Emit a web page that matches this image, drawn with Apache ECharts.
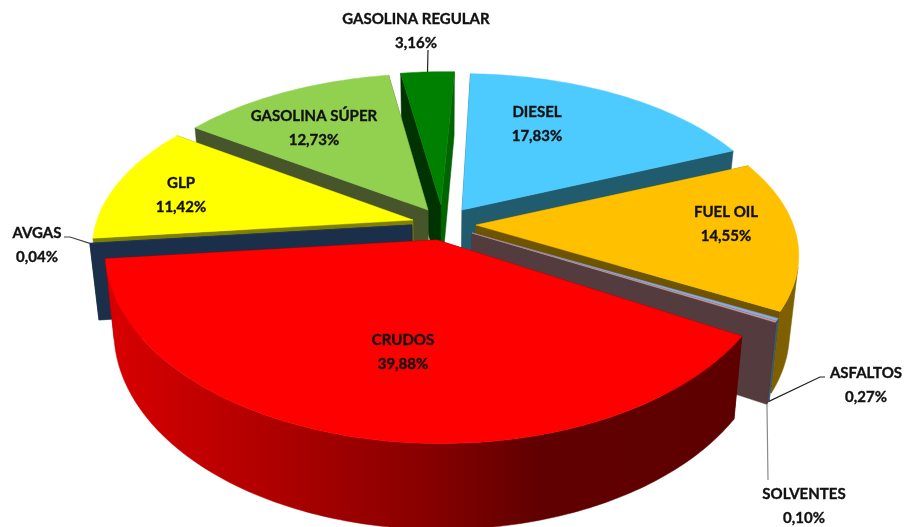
<!DOCTYPE html>
<html><head><meta charset="utf-8">
<style>html,body{margin:0;padding:0;background:#fff}#c{width:905px;height:527px}</style>
<script src="https://cdn.jsdelivr.net/npm/echarts@6/dist/echarts.min.js"></script>
</head><body><div id="c"></div>
<script>
// ---- data ----
const categories = ['DIESEL','FUEL OIL','ASFALTOS','SOLVENTES','CRUDOS','AVGAS','GLP','GASOLINA SÚPER','GASOLINA REGULAR'];
const shares = [17.83,14.55,0.27,0.10,39.88,0.04,11.42,12.73,3.16];

// ---- layout and style ----
const startAngle = 2;
const drawOrder = [8,0,7,6,1,2,3,5,4];
const apexes  = [[462,210],[476,225],[472,233],[472,233],[437,240],[412,225],[413,220],[428,210],[441,205]];
const centers = [[461,212],[476,227],[474,234],[474,234],[441,237],[412,225],[415,220],[433,212],[445,210]];
const lens = {rx:318, ry:162, k:0.171, h:75, vx:440, conv:0.974};
const lensOverride = {4:{rx:335, ry:192, k:0.07, h:80}};
const topColors = ['#4DCBFF','#FFC000','#8EA9DB','#C9A0A0','#FF0000','#1F3864','#FFFF00','#92D050','#008000'];
const rimColors = ['#1F5A70','#7F6000','#3B5A75','#533B3E',null,'#1B2F4A','#7F7F00','#46552A','#006400'];
const startWall = ['#1F5A70','#7F6000','#3B5A75','#533B3E','#700000','#1B2F4A','#7F7F00','#46552A','#003300'];
const endWall   = ['#205B6E','#6E5400','#533B3E','#533B3E','#700000','#1B2F4A','#6F6F00','#46552A','#006400'];
const labelPos = [[537,124],[726,224],[866,385],[804,506],[403,352],[37,245],[181,195],[314,128],[416,31]];
const leaders = {2:{pts:[[825,377],[820,377]],deg:'bottom'},3:{pts:[[768,480]],deg:'bottom'},5:{pts:[[64,237],[70,237]],deg:'top'},8:{pts:[[428,50]],deg:'top'}};
const leaderColors = {2:'#222',3:'#8a8a8a',5:'#444',8:'#222'};

const total = shares.reduce((a,b)=>a+b,0);
const spans = []; let acc = startAngle;
shares.forEach(v=>{const s=v/total*360; spans.push([acc,acc+s]); acc+=s;});

function proj(i,deg,down){
  const L = Object.assign({},lens,lensOverride[i]||{});
  const a = deg*Math.PI/180, u = Math.sin(a), v = -Math.cos(a);
  const s = 1/(1-L.k*v);
  let x = centers[i][0]+L.rx*u*s, y = centers[i][1]+L.ry*v*s;
  if(down){ y += L.h*s; x = L.vx+(x-L.vx)*L.conv; }
  return [x,y];
}
function apex(i,down){
  const L = Object.assign({},lens,lensOverride[i]||{});
  let x = apexes[i][0], y = apexes[i][1];
  if(down){ y += L.h; x = L.vx+(x-L.vx)*L.conv; }
  return [x,y];
}
function cross(a,b,c){return (b[0]-a[0])*(c[1]-a[1])-(b[1]-a[1])*(c[0]-a[0]);}

function renderSlice(params,api){
  const i = api.value(0), [a0,a1] = spans[i], children = [];
  const n = Math.max(2,Math.ceil(a1-a0)), angs = [];
  for(let t=0;t<=n;t++) angs.push(a0+(a1-a0)*t/n);
  const tipT = apex(i,false), tipB = apex(i,true);
  const poly=(points,fill)=>children.push({type:'polygon',shape:{points},style:{fill,stroke:fill,lineWidth:0.5}});
  const rimFill = i===4 ? {type:'linear',x:110,y:0,x2:740,y2:0,global:true,
      colorStops:[{offset:0,color:'#D80000'},{offset:0.3,color:'#A80000'},{offset:0.5,color:'#880000'},{offset:0.68,color:'#600000'},{offset:1,color:'#5F0000'}]} : rimColors[i];
  const wall = (deg,fill)=>{const r=proj(i,deg),b=proj(i,deg,true);return {pts:[tipT,r,b,tipB],fill,c:cross(tipT,r,b)};};
  const w0 = wall(a0,startWall[i]), w1 = wall(a1,endWall[i]);
  const v0 = w0.c<0, v1 = w1.c>0;
  if(!v0) poly(w0.pts,w0.fill);
  if(!v1) poly(w1.pts,w1.fill);
  // outer rim: only the stretches that face the viewer
  let run=[];
  const flush=()=>{ if(run.length>1){
      poly(run.map(d=>proj(i,d)).concat(run.slice().reverse().map(d=>proj(i,d,true))),rimFill);} run=[]; };
  for(let t=0;t<n;t++){
    const p=proj(i,angs[t]),q=proj(i,angs[t+1]),qb=proj(i,angs[t+1],true);
    if(cross(p,q,qb)<0){ if(!run.length) run.push(angs[t]); run.push(angs[t+1]); } else flush();
  }
  flush();
  if(v0) poly(w0.pts,w0.fill);
  if(v1) poly(w1.pts,w1.fill);
  poly([tipT].concat(angs.map(d=>proj(i,d))),topColors[i]);
  return {type:'group',children};
}
function renderLabel(params,api){
  const i = api.value(0), children = [];
  const l = leaders[i];
  if(l){
    const mid=(spans[i][0]+spans[i][1])/2;
    const end=proj(i,mid,l.deg==='bottom');
    children.push({type:'polyline',shape:{points:l.pts.concat([end])},style:{stroke:leaderColors[i],lineWidth:1.2,fill:null}});
  }
  children.push({type:'text',style:{
    text:categories[i]+'\n'+shares[i].toFixed(2).replace('.',',')+'%',
    x:labelPos[i][0],y:labelPos[i][1],align:'center',verticalAlign:'middle',
    fontFamily:'Lato',fontWeight:'bold',fontSize:15,lineHeight:24,fill:'#111',stroke:'#111',lineWidth:0.35}});
  return {type:'group',children};
}
const chart = echarts.init(document.getElementById('c'),null,{renderer:'canvas'});
chart.setOption({
  animation:false,backgroundColor:'#fff',
  series:[
    {type:'custom',coordinateSystem:'none',silent:true,renderItem:renderSlice,z:1,
     data:drawOrder.map(i=>[i,shares[i]])},
    {type:'custom',coordinateSystem:'none',silent:true,renderItem:renderLabel,z:2,
     data:drawOrder.map(i=>[i,shares[i]])}
  ]
});
</script></body></html>
